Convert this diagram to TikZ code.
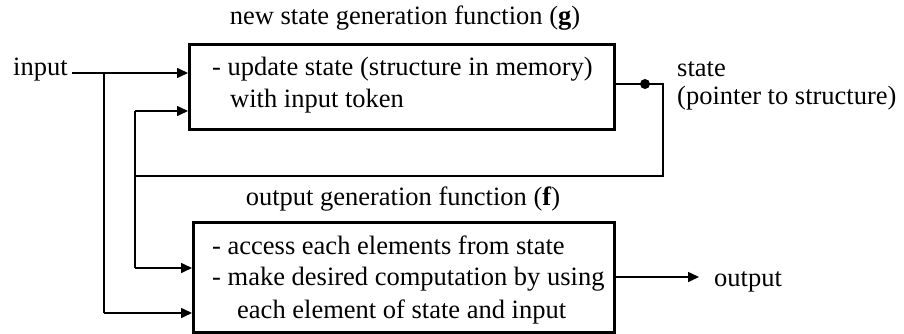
\documentclass[tikz,border=0pt]{standalone}
\usepackage{fontspec}
\setmainfont{Liberation Serif}
\usetikzlibrary{arrows.meta}
\begin{document}
\begin{tikzpicture}[x=1pt,y=-1pt,
  txt/.style={inner sep=0pt,font=\fontsize{26.5}{31}\selectfont},
  boxx/.style={draw,line width=3pt,inner sep=0pt},
  wire/.style={line width=1.6pt},
  arr/.style={wire,-{Triangle[length=11pt,width=10pt]}}]
\useasboundingbox (0,0) rectangle (904,334);
% boxes
\node[boxx,minimum width=425pt,minimum height=85pt,anchor=north west] (g) at (188,43) {};
\node[boxx,minimum width=421pt,minimum height=110pt,anchor=north west] (f) at (192,221) {};
% titles
\node[txt,anchor=base] (gt) at (405,25) {new state generation function (\textbf{g})};
\node[txt,anchor=base] (ft) at (403,205) {output generation function (\textbf{f})};
% box texts
\node[txt,anchor=base west] (g1) at (212,76) {- update state (structure in memory)};
\node[txt,anchor=base west] (g2) at (230,107) {with input token};
\node[txt,anchor=base west] (f1) at (212,254) {- access each elements from state};
\node[txt,anchor=base west] (f2) at (212,285) {- make desired computation by using};
\node[txt,anchor=base west] (f3) at (237,318) {each element of state and input};
% side labels
\node[txt,anchor=base west] (in) at (13,76) {input};
\node[txt,anchor=base west] (st) at (677,77) {state};
\node[txt,anchor=base west] (pt) at (677,105) {(pointer to structure)};
\node[txt,anchor=base west] (out) at (714,286) {output};
% coordinates
\coordinate (inE) at (72,73);
\coordinate (b1) at (104,73);
\coordinate (b1d) at (104,313);
\coordinate (b2) at (135,111);
\coordinate (b2d) at (135,268);
\coordinate (j) at (135,176);
\coordinate (dot) at (645,84);
\coordinate (fr) at (663,84);
\coordinate (frd) at (663,176);
\coordinate (oE) at (699,277);
% wires
\draw[arr] (inE) -- (g.west |- inE);
\draw[wire] (b1) -- (b1d);
\draw[arr] (b1d) -- (f.west |- b1d);
\draw[arr] (b2) -- (g.west |- b2);
\draw[wire] (b2) -- (b2d);
\draw[arr] (b2d) -- (f.west |- b2d);
\draw[wire] (g.east |- dot) -- (fr) -- (frd) -- (j);
\fill (dot) circle (5pt);
\draw[arr] (f.east |- oE) -- (oE);
\end{tikzpicture}
\end{document}
